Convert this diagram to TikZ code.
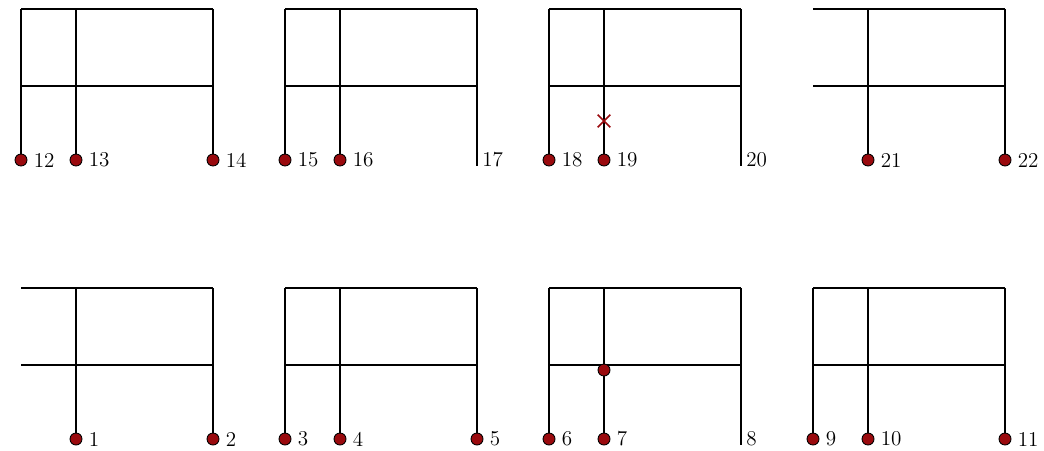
\documentclass[tikz,border=0pt]{standalone}
\usepackage{tikz}
\usetikzlibrary{positioning,calc,shapes.misc}
\definecolor{supRed}{HTML}{9A0A0E}
\tikzset{
  member/.style={draw=black, line width=0.8pt},
  supdot/.style={circle, draw=black, fill=supRed, line width=0.5pt,
              minimum size=2.4mm, inner sep=0pt},
  num/.style={font=\large, inner sep=0pt},
  hinge/.style={cross out, draw=supRed, line width=0.9pt,
              minimum size=2.2mm, inner sep=0pt},
}

\begin{document}
\begin{tikzpicture}
  \useasboundingbox (0,0) rectangle (20.88,9);
  % frames: name / x / y of foot / left column drawn
  \foreach \f/\x/\y/\lft in {a/0.42/5.68/1,b/5.70/5.68/1,c/10.98/5.68/1,d/16.26/5.68/0,
                             e/0.42/0.10/0,f/5.70/0.10/1,g/10.98/0.10/1,h/16.26/0.10/1}{
    \coordinate (\f tl) at (\x,\y+3.14);
    \coordinate (\f tm) at (\x+1.1,\y+3.14);
    \coordinate (\f tr) at (\x+3.84,\y+3.14);
    \coordinate (\f bl) at (\x,\y+1.6);
    \coordinate (\f br) at (\x+3.84,\y+1.6);
    \coordinate (\f fl) at (\x,\y);
    \coordinate (\f fm) at (\x+1.1,\y);
    \coordinate (\f fr) at (\x+3.84,\y);
    \coordinate (\f sl) at (\x,\y+0.12);
    \coordinate (\f sm) at (\x+1.1,\y+0.12);
    \coordinate (\f sr) at (\x+3.84,\y+0.12);
    \draw[member] (\f tl) -- (\f tr);
    \draw[member] (\f bl) -- (\f br);
    \draw[member] (\f tm) -- (\f fm);
    \draw[member] (\f tr) -- (\f fr);
    \ifnum\lft=1 \draw[member] (\f tl) -- (\f fl); \fi
  }
  % supports
  \foreach \p/\n in {asl/12,asm/13,asr/14,bsl/15,bsm/16,csl/18,csm/19,dsm/21,dsr/22,
                     esm/1,esr/2,fsl/3,fsm/4,fsr/5,gsl/6,gsm/7,hsl/9,hsm/10,hsr/11}{
    \node[supdot] (s\n) at (\p) {};
    \node[num,right=1.2mm of s\n] {\n};
  }
  % free column ends
  \foreach \p/\n in {bsr/17,csr/20,gsr/8}{
    \node[num,anchor=west,xshift=1mm] (e\n) at (\p) {\n};
  }
  % released joint and hinge
  \node[hinge] (cut) at ($(csm)+(0,0.78)$) {};
  \node[supdot] (joint) at ($(gsm)+(0,1.38)$) {};
\end{tikzpicture}
\end{document}
